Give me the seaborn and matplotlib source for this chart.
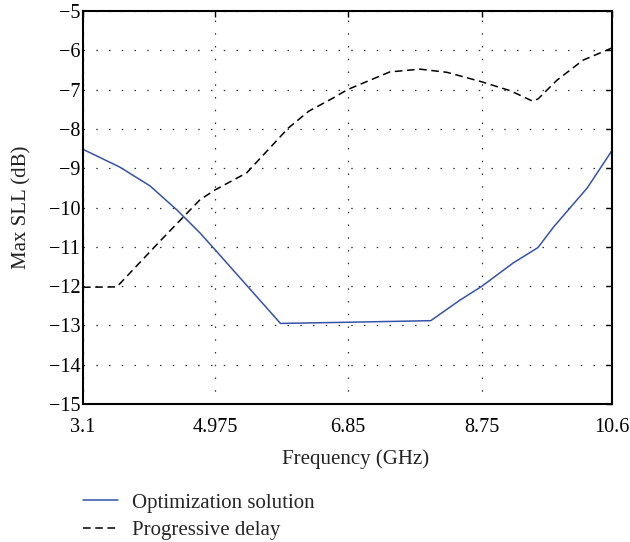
import matplotlib
matplotlib.use("Agg")
import matplotlib.pyplot as plt
import seaborn as sns
import pandas as pd

# Maximum side-lobe level across the UWB band
freq_opt = [3.1, 3.62, 4.05, 4.43, 4.76, 4.975, 5.9, 6.85, 8.03, 8.45, 8.75,
            9.2, 9.55, 9.77, 10.25, 10.6]
sll_opt = [-8.52, -8.97, -9.45, -10.06, -10.65, -11.08, -12.95, -12.92, -12.88,
           -12.35, -12.01, -11.41, -11.02, -10.5, -9.5, -8.55]

freq_pd = [3.1, 3.58, 4.2, 4.76, 4.975, 5.42, 6.01, 6.3, 6.65, 6.85, 7.45,
           7.88, 8.26, 8.75, 9.16, 9.47, 9.55, 9.82, 10.19, 10.6]
sll_pd = [-12.03, -12.02, -10.84, -9.8, -9.55, -9.12, -7.98, -7.55, -7.21,
          -7.0, -6.55, -6.48, -6.56, -6.8, -7.03, -7.29, -7.24, -6.76, -6.25,
          -5.94]

x_ticks = [3.1, 4.975, 6.85, 8.75, 10.6]
x_tick_labels = ["3.1", "4.975", "6.85", "8.75", "10.6"]
y_ticks = list(range(-15, -4))

opt_df = pd.DataFrame({"freq": freq_opt, "sll": sll_opt})
pd_df = pd.DataFrame({"freq": freq_pd, "sll": sll_pd})

sns.set_theme(style="white")
plt.rcParams["font.family"] = ["Liberation Serif", "DejaVu Serif"]
plt.rcParams["axes.unicode_minus"] = True

fig = plt.figure(figsize=(6.3, 5.42), dpi=100)
ax = fig.add_axes([83 / 630, 1 - 404 / 542, (612 - 83) / 630, (404 - 11) / 542])

sns.lineplot(data=opt_df, x="freq", y="sll", ax=ax, color="#3553a8",
             linewidth=1.1, label="Optimization solution", legend=False)
sns.lineplot(data=pd_df, x="freq", y="sll", ax=ax, color="black",
             linewidth=1.1, linestyle=(0, (5.0, 3.0)), label="Progressive delay",
             legend=False)

ax.set_xlim(3.1, 10.6)
ax.set_ylim(-15, -5)
ax.set_xticks(x_ticks)
ax.set_xticklabels(x_tick_labels)
ax.set_yticks(y_ticks)

ax.grid(True, color="#333333", linestyle=(0, (1.2, 9)), linewidth=0.9)
ax.tick_params(direction="in", length=4, width=1.0, top=True, right=True,
               labelsize=14.5, colors="black")
ax.tick_params(axis="x", pad=10)
ax.tick_params(axis="y", pad=2)
for sp in ax.spines.values():
    sp.set_visible(True)
    sp.set_color("black")
    sp.set_linewidth(1.5)

ax.set_xlabel("Frequency (GHz)", fontsize=15, labelpad=9, color="#222222")
ax.set_ylabel("Max SLL (dB)", fontsize=15, labelpad=12, color="#222222")
ax.xaxis.label.set_x(0.515)

handles, labels = ax.get_legend_handles_labels()
fig.legend(handles, labels, loc="upper left",
           bbox_to_anchor=(83 / 630, 1 - 493 / 542), frameon=False,
           fontsize=15, handlelength=1.7, handletextpad=0.65,
           labelspacing=0.38, borderpad=0, borderaxespad=0)

fig.savefig("out.png", dpi=100)
